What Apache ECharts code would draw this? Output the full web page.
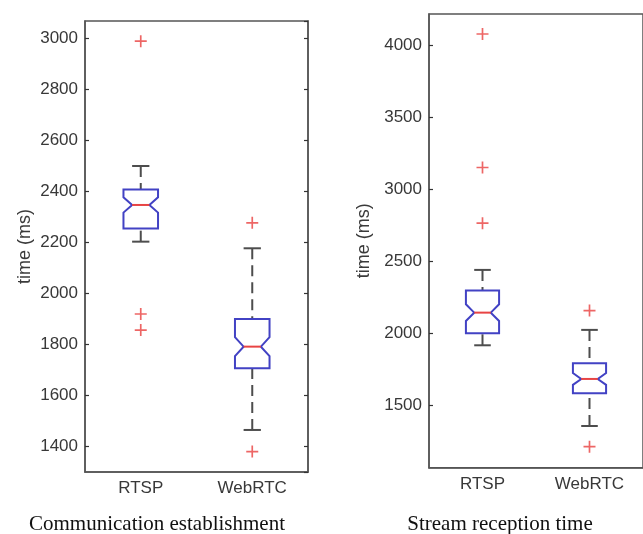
<!DOCTYPE html>
<html>
<head>
<meta charset="utf-8">
<script src="https://cdn.jsdelivr.net/npm/echarts@6/dist/echarts.min.js"></script>
<style>
  html, body { margin: 0; padding: 0; background: #fff; }
  #chart { width: 643px; height: 534px; }
</style>
</head>
<body>
<div id="chart"></div>
<script>
// ---- data ----
const categories = ['RTSP', 'WebRTC'];

// Communication establishment (ms)
const commLowerWhisker = [2202, 1463];
const commQ1 = [2254, 1705];
const commNotchLow = [2316, 1753];
const commMedian = [2346, 1790];
const commNotchHigh = [2376, 1827];
const commQ3 = [2407, 1898];
const commUpperWhisker = [2499, 2176];
const commOutlierCat = [0, 0, 0, 1, 1];
const commOutlierVal = [2989, 1918, 1855, 2276, 1378];

// Stream reception time (ms)
const streamLowerWhisker = [1915, 1354];
const streamQ1 = [1999, 1581];
const streamNotchLow = [2084, 1640];
const streamMedian = [2142, 1681];
const streamNotchHigh = [2200, 1722];
const streamQ3 = [2295, 1790];
const streamUpperWhisker = [2439, 2022];
const streamOutlierCat = [0, 0, 0, 1, 1];
const streamOutlierVal = [4079, 3151, 2764, 2156, 1210];

// axis ranges
const commRange = [1298, 3068];
const streamRange = [1064, 4218];

// ---- build ----
function boxRows(lw, q1, nlo, med, nhi, q3, uw) {
  return categories.map((c, i) => [i, lw[i], q1[i], nlo[i], med[i], nhi[i], q3[i], uw[i]]);
}
function outlierRows(cat, val) {
  return cat.map((c, i) => [c, val[i]]);
}

const BOX = '#4242c4', MED = '#e84444', WHISK = '#4d4d4d', OUT = '#e8403e';
const AXC = '#555';
const FONT = 'Liberation Sans, Arial, sans-serif';

function renderBox(params, api) {
  const xi = api.value(0);
  const y = v => api.coord([xi, v])[1];
  const x = api.coord([xi, api.value(4)])[0];
  const band = api.size([1, 0])[0];
  const hw = band * 0.155;
  const lw = y(api.value(1)), q1 = y(api.value(2)), nlo = y(api.value(3)),
        med = y(api.value(4)), nhi = y(api.value(5)), q3 = y(api.value(6)), uw = y(api.value(7));
  const wStyle = { stroke: WHISK, lineWidth: 2, lineDash: [11, 6] };
  const cStyle = { stroke: WHISK, lineWidth: 2 };
  return {
    type: 'group',
    children: [
      { type: 'line', shape: { x1: x, y1: uw, x2: x, y2: q3 }, style: wStyle },
      { type: 'line', shape: { x1: x, y1: lw, x2: x, y2: q1 }, style: wStyle },
      { type: 'line', shape: { x1: x - hw / 2, y1: uw, x2: x + hw / 2, y2: uw }, style: cStyle },
      { type: 'line', shape: { x1: x - hw / 2, y1: lw, x2: x + hw / 2, y2: lw }, style: cStyle },
      { type: 'polygon', shape: { points: [
          [x - hw, q3], [x + hw, q3], [x + hw, nhi], [x + hw / 2, med], [x + hw, nlo],
          [x + hw, q1], [x - hw, q1], [x - hw, nlo], [x - hw / 2, med], [x - hw, nhi]
        ] }, style: { fill: 'none', stroke: BOX, lineWidth: 2 } },
      { type: 'line', shape: { x1: x - hw / 2, y1: med, x2: x + hw / 2, y2: med }, style: { stroke: MED, lineWidth: 2 } }
    ]
  };
}

const plus = 'path://M4.3,0H5.7V10H4.3ZM0,4.3H10V5.7H0Z';

function xAx(grid) {
  return {
    type: 'category', gridIndex: grid, data: categories,
    axisLine: { lineStyle: { color: AXC, width: 1.5 } },
    axisTick: { show: false },
    axisLabel: { fontSize: 17, color: '#383838', margin: 8, fontFamily: FONT },
    splitLine: { show: false }
  };
}
function yAx(grid, range, split, gap) {
  return {
    type: 'value', gridIndex: grid, min: range[0], max: range[1], splitNumber: split,
    name: 'time (ms)', nameLocation: 'middle', nameGap: gap,
    nameTextStyle: { fontSize: 18, color: '#3a3a3a', fontFamily: FONT },
    axisLine: { show: true, lineStyle: { color: AXC, width: 1.5 } },
    axisTick: { show: true, inside: true, length: 4, lineStyle: { color: '#333', width: 1.2 } },
    axisLabel: { fontSize: 17, color: '#383838', margin: 7, fontFamily: FONT,
      showMinLabel: false, showMaxLabel: false, formatter: v => String(v) },
    splitLine: { show: false }
  };
}

const option = {
  animation: false,
  backgroundColor: '#fff',
  grid: [
    { left: 85, top: 21, width: 223, height: 451, show: true, borderColor: AXC, borderWidth: 1.5, backgroundColor: 'transparent' },
    { left: 429, top: 14, width: 223.4, height: 453.7, show: true, borderColor: AXC, borderWidth: 1.5, backgroundColor: 'transparent' }
  ],
  xAxis: [xAx(0), xAx(1)],
  yAxis: [
    yAx(0, commRange, 9, 51),
    yAx(1, streamRange, 6, 56),
    Object.assign(yAx(0, commRange, 9, 0), { position: 'right', name: '', axisLabel: { show: false } })
  ],
  series: [
    { type: 'custom', xAxisIndex: 0, yAxisIndex: 0, renderItem: renderBox,
      encode: { x: 0, y: [1, 2, 3, 4, 5, 6, 7] },
      data: boxRows(commLowerWhisker, commQ1, commNotchLow, commMedian, commNotchHigh, commQ3, commUpperWhisker) },
    { type: 'custom', xAxisIndex: 1, yAxisIndex: 1, renderItem: renderBox,
      encode: { x: 0, y: [1, 2, 3, 4, 5, 6, 7] },
      data: boxRows(streamLowerWhisker, streamQ1, streamNotchLow, streamMedian, streamNotchHigh, streamQ3, streamUpperWhisker) },
    { type: 'scatter', xAxisIndex: 0, yAxisIndex: 0, symbol: plus, symbolSize: 12,
      itemStyle: { color: OUT }, data: outlierRows(commOutlierCat, commOutlierVal) },
    { type: 'scatter', xAxisIndex: 1, yAxisIndex: 1, symbol: plus, symbolSize: 12,
      itemStyle: { color: OUT }, data: outlierRows(streamOutlierCat, streamOutlierVal) }
  ],
  graphic: [
    { type: 'text', x: 157, y: 524, style: { text: 'Communication establishment', fontSize: 21,
      fontFamily: 'Liberation Serif, Times New Roman, serif', fill: '#111', align: 'center', verticalAlign: 'middle' } },
    { type: 'text', x: 500, y: 524, style: { text: 'Stream reception time', fontSize: 21,
      fontFamily: 'Liberation Serif, Times New Roman, serif', fill: '#111', align: 'center', verticalAlign: 'middle' } }
  ]
};

const chart = echarts.init(document.getElementById('chart'), null, { renderer: 'canvas' });
chart.setOption(option);
</script>
</body>
</html>
